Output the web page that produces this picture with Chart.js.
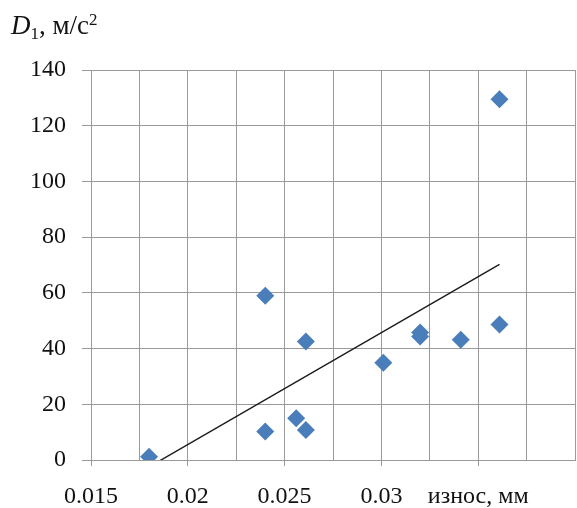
<!DOCTYPE html>
<html lang="ru">
<head>
  <meta charset="UTF-8">
  <title>D1 — износ</title>
  <script src="https://cdn.jsdelivr.net/npm/chart.js@4.4.1/dist/chart.umd.min.js"></script>
  <style>
    body {
      margin: 0;
      background: #fff;
      font-family: "Liberation Serif", serif;
      overflow: hidden;
    }
    #wrap {
      position: relative;
      width: 577px;
      height: 508px;
    }
    #wearChart { display: block; }
    #axis-title {
      position: absolute;
      left: 11px;
      top: 11px;
      font-size: 27px;
      color: #111;
      line-height: 1;
    }
    #axis-title sub { font-size: 17px; vertical-align: -5px; }
    #axis-title sup { font-size: 17px; vertical-align: 9px; }
  </style>
</head>
<body>

  <div id="wrap">
    <div id="axis-title"><i>D</i><sub>1</sub>, м/с<sup>2</sup></div>
    <canvas id="wearChart" width="577" height="508"></canvas>
  </div>

  <script>
    // износ, мм  /  D1, м/с2
    const wear = [0.018, 0.024, 0.024, 0.0256, 0.0261, 0.0261, 0.0301, 0.032, 0.032, 0.0341, 0.0361, 0.0361];
    const accel = [1.2, 59, 10.2, 15, 10.8, 42.5, 34.9, 44.3, 45.8, 43.2, 48.6, 129.5];

    const xTickValues = [0.015, 0.02, 0.025, 0.03, 0.035];
    const xTickLabels = ['0.015', '0.02', '0.025', '0.03', 'износ, мм'];

    const gridColor = '#9a9a9a';
    const pointColor = '#4a7ebb';

    const points = wear.map((x, i) => ({ x: x, y: accel[i] }));

    // линейный тренд (МНК)
    const n = wear.length;
    const mx = wear.reduce((s, v) => s + v, 0) / n;
    const my = accel.reduce((s, v) => s + v, 0) / n;
    let sxy = 0, sxx = 0;
    wear.forEach((x, i) => {
      sxy += (x - mx) * (accel[i] - my);
      sxx += (x - mx) * (x - mx);
    });
    const slope = sxy / sxx;
    const intercept = my - slope * mx;
    const xMin = Math.min(...wear);
    const xMax = Math.max(...wear);
    const trend = [
      { x: xMin, y: intercept + slope * xMin },
      { x: xMax, y: intercept + slope * xMax }
    ];

    const majorIndex = v => xTickValues.findIndex(t => Math.abs(t - v) < 1e-6);

    new Chart(document.getElementById('wearChart'), {
      type: 'scatter',
      data: {
        datasets: [
          {
            data: points,
            pointStyle: 'rectRot',
            pointRadius: 9,
            pointBorderWidth: 0,
            backgroundColor: pointColor,
            borderColor: pointColor,
            order: 0
          },
          {
            type: 'line',
            data: trend,
            borderColor: '#1a1a1a',
            borderWidth: 1.4,
            pointRadius: 0,
            fill: false,
            order: 1
          }
        ]
      },
      options: {
        responsive: false,
        animation: false,
        layout: {
          autoPadding: false,
          padding: { top: 70, right: 2, left: 0, bottom: 0 }
        },
        plugins: {
          legend: { display: false },
          tooltip: { enabled: false }
        },
        scales: {
          x: {
            type: 'linear',
            min: 0.015,
            max: 0.04,
            afterBuildTicks: scale => {
              const ticks = [];
              for (let k = 0; k <= 10; k++) ticks.push({ value: 0.015 + k * 0.0025 });
              scale.ticks = ticks;
            },
            afterFit: scale => {
              scale.height = 48;
              scale.paddingLeft = 0;
              scale.paddingRight = 0;
            },
            border: { color: gridColor, width: 1 },
            grid: {
              color: gridColor,
              lineWidth: 1,
              tickLength: 6,
              tickColor: ctx => majorIndex(ctx.tick.value) >= 0 ? gridColor : 'rgba(0,0,0,0)'
            },
            ticks: {
              autoSkip: false,
              maxRotation: 0,
              padding: 16,
              color: '#111',
              font: { family: '"Liberation Serif", serif', size: 24 },
              callback: value => {
                const i = majorIndex(value);
                return i >= 0 ? xTickLabels[i] : '';
              }
            }
          },
          y: {
            min: 0,
            max: 140,
            afterFit: scale => { scale.width = 91; },
            border: { color: gridColor, width: 1 },
            grid: {
              color: gridColor,
              lineWidth: 1,
              tickLength: 9
            },
            ticks: {
              stepSize: 20,
              padding: 16,
              color: '#111',
              font: { family: '"Liberation Serif", serif', size: 24 }
            }
          }
        }
      }
    });
  </script>

</body>
</html>
